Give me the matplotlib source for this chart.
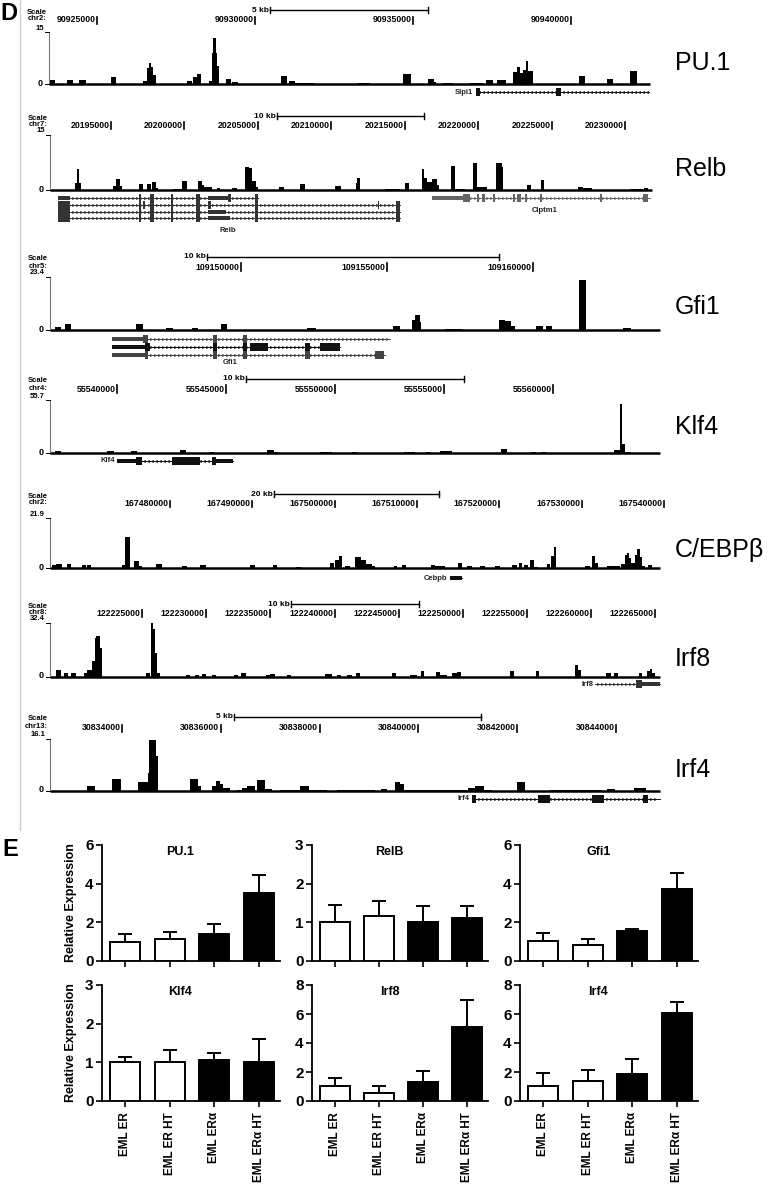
import numpy as np
import matplotlib
matplotlib.use('Agg')
import matplotlib.pyplot as plt
import matplotlib.transforms as mtransforms
from matplotlib.patches import Rectangle
from matplotlib.lines import Line2D

plt.rcParams['font.family'] = ['Liberation Sans', 'DejaVu Sans']

W, H = 774, 1189


def fx(px):
    return px / W


def fy(py):
    return 1 - py / H


# ---------------- panel D data (positions in window bins, heights in signal units)
track_names = ['PU.1', 'Relb', 'Gfi1', 'Klf4', 'C/EBP\u03b2', 'Irf8', 'Irf4']
track_chroms = ['chr2:', 'chr7:', 'chr5:', 'chr4:', 'chr2:', 'chr8:', 'chr13:']
track_ymax = [15, 15, 23.4, 55.7, 21.9, 32.4, 16.1]
track_ymax_label = ['15', '15', '23.4', '55.7', '21.9', '32.4', '16.1']
track_start_bp = [90923481, 20190850, 109143459, 55536927, 167465420, 122217835, 30832543]
track_bp_per_bin = [31.65, 68.03, 34.25, 45.87, 121.5, 77.9, 20.24]
track_scale_kb = [5, 10, 10, 10, 20, 10, 5]
track_scale_start = [90930476, 20206293, 109148836, 55545918, 167492636, 122236609, 30836267]

pu1_ticks = [90925000, 90930000, 90935000, 90940000]
relb_ticks = [20195000, 20200000, 20205000, 20210000, 20215000, 20220000, 20225000, 20230000]
gfi1_ticks = [109150000, 109155000, 109160000]
klf4_ticks = [55540000, 55545000, 55550000, 55555000, 55560000]
cebpb_ticks = [167480000, 167490000, 167500000, 167510000, 167520000, 167530000, 167540000]
irf8_ticks = [122225000, 122230000, 122235000, 122240000, 122245000, 122250000,
              122255000, 122260000, 122265000]
irf4_ticks = [30834000, 30836000, 30838000, 30840000, 30842000, 30844000]

pu1_peaks = [(1, 6, 1.2), (18, 24, 1.2), (30, 37, 1.2), (62, 67, 1.9), (94, 98, 1.0),
             (98, 100, 4.5), (100, 102, 6.1), (102, 104, 5.0), (104, 107, 2.7),
             (138, 143, 1.0), (144, 148, 1.9), (148, 152, 2.9), (160, 163, 1.0),
             (163, 164, 9.0), (164, 167, 13.3), (167, 168, 9.0), (168, 170, 5.1),
             (177, 182, 1.5), (183, 189, 0.5), (232, 238, 2.2), (240, 246, 1.0),
             (246, 266, 0.4), (308, 321, 0.4), (354, 362, 2.9), (379, 385, 1.5),
             (385, 387, 0.7), (394, 404, 0.4), (420, 434, 0.4), (437, 444, 1.1),
             (448, 457, 1.1), (464, 468, 3.4), (468, 471, 4.9), (471, 474, 3.2),
             (474, 477, 4.1), (477, 479, 6.5), (479, 484, 3.7), (530, 536, 2.4),
             (558, 564, 1.5), (581, 588, 3.8)]
relb_peaks = [(25, 27, 2.0), (27, 29, 5.6), (29, 31, 2.0), (63, 66, 1.1), (66, 70, 3.0),
              (70, 72, 1.1), (89, 93, 1.6), (97, 101, 1.6), (102, 106, 2.3), (106, 108, 0.5),
              (123, 132, 0.3), (132, 137, 2.5), (148, 152, 2.5), (152, 154, 1.4),
              (154, 162, 0.7), (167, 170, 0.5), (182, 187, 0.5), (195, 199, 6.2),
              (199, 202, 5.9), (202, 206, 2.5), (206, 208, 0.7), (229, 234, 0.7),
              (250, 255, 1.6), (285, 291, 1.1), (306, 307, 1.8), (307, 310, 3.4),
              (335, 350, 0.3), (355, 359, 2.0), (372, 374, 5.6), (374, 377, 3.2),
              (377, 382, 2.3), (382, 387, 2.9), (387, 389, 1.4), (401, 405, 6.5),
              (405, 415, 0.3), (423, 427, 7.4), (427, 437, 0.7), (446, 452, 7.3),
              (452, 453, 6.4), (477, 481, 1.4), (491, 494, 2.7), (528, 533, 0.7),
              (533, 542, 0.5), (580, 593, 0.3), (594, 598, 0.5)]
gfi1_peaks = [(5, 11, 1.3), (15, 21, 2.5), (86, 93, 2.5), (116, 123, 1.0), (142, 148, 1.0),
              (171, 177, 2.5), (257, 266, 1.0), (343, 350, 1.9), (362, 365, 4.4),
              (365, 370, 6.6), (370, 371, 3.4), (395, 412, 0.4), (449, 455, 4.4),
              (455, 461, 4.0), (461, 465, 1.9), (486, 493, 1.6), (496, 502, 1.9),
              (529, 536, 22.2), (573, 581, 1.0)]
klf4_peaks = [(5, 11, 2.1), (57, 64, 2.1), (81, 87, 2.1), (130, 136, 3.5), (159, 164, 1.1),
              (217, 224, 3.5), (224, 228, 1.1), (270, 282, 1.1), (302, 307, 1.1),
              (354, 365, 1.1), (376, 381, 1.1), (390, 402, 1.8), (451, 457, 4.6),
              (481, 486, 1.1), (491, 496, 1.1), (564, 570, 2.8), (570, 572, 52.0),
              (572, 575, 9.9), (575, 581, 1.1)]
cebpb_peaks = [(2, 6, 1.4), (6, 12, 1.7), (17, 21, 1.7), (32, 36, 1.4), (37, 41, 1.4),
               (72, 75, 1.4), (75, 80, 13.4), (84, 89, 2.9), (89, 92, 0.7), (106, 112, 1.7),
               (132, 137, 1.0), (150, 156, 1.4), (200, 205, 1.4), (223, 227, 1.4),
               (246, 251, 0.4), (280, 284, 2.2), (285, 289, 3.6), (289, 292, 5.3),
               (295, 300, 0.7), (305, 311, 4.8), (311, 316, 3.6), (316, 322, 1.9),
               (322, 325, 1.0), (344, 347, 0.7), (352, 356, 1.1), (381, 385, 1.1),
               (385, 395, 0.7), (408, 412, 2.2), (417, 422, 0.7), (430, 435, 0.7),
               (445, 450, 0.7), (462, 467, 1.1), (469, 472, 2.2), (474, 478, 1.4),
               (480, 484, 3.3), (484, 488, 0.4), (497, 500, 1.7), (501, 504, 5.3),
               (504, 506, 9.1), (535, 540, 0.7), (542, 545, 5.3), (545, 548, 2.2),
               (557, 570, 0.7), (571, 575, 1.9), (575, 577, 5.8), (577, 579, 6.5),
               (579, 581, 4.3), (581, 585, 2.2), (585, 587, 5.8), (587, 590, 8.4),
               (590, 592, 4.8), (592, 595, 0.7), (598, 602, 1.1)]
irf8_peaks = [(6, 11, 4.4), (14, 18, 2.4), (21, 26, 2.4), (34, 37, 2.4), (37, 42, 4.4),
              (42, 45, 9.4), (45, 46, 23.4), (46, 50, 24.4), (50, 52, 17.4), (96, 100, 2.4),
              (101, 103, 32.4), (103, 105, 28.8), (105, 107, 14.4), (107, 110, 2.4),
              (136, 140, 1.0), (145, 149, 1.0), (152, 156, 2.0), (162, 166, 1.0),
              (184, 188, 1.0), (191, 196, 2.4), (216, 220, 1.4), (220, 225, 1.8),
              (237, 241, 1.0), (275, 282, 1.8), (287, 291, 1.0), (297, 302, 1.0),
              (306, 310, 2.4), (342, 346, 2.4), (360, 367, 1.0), (371, 374, 3.4),
              (386, 390, 3.0), (390, 397, 1.4), (402, 407, 2.4), (407, 411, 3.0),
              (460, 464, 3.8), (486, 489, 3.8), (525, 528, 7.4), (528, 531, 4.4),
              (556, 561, 2.4), (564, 568, 2.4), (589, 592, 2.4), (597, 600, 3.4),
              (600, 602, 5.0), (602, 605, 2.4)]
irf4_peaks = [(37, 45, 1.5), (62, 71, 3.7), (88, 98, 2.8), (98, 99, 5.6), (99, 106, 15.9),
              (106, 108, 10.7), (140, 148, 3.7), (148, 151, 1.5), (162, 166, 1.5),
              (166, 170, 3.0), (170, 173, 2.3), (173, 180, 1.0), (187, 192, 0.4),
              (192, 197, 1.0), (197, 205, 1.5), (207, 215, 3.3), (215, 222, 0.7),
              (230, 250, 0.4), (250, 259, 1.5), (259, 277, 0.4), (287, 325, 0.2),
              (331, 337, 0.6), (345, 350, 2.8), (350, 354, 2.1), (354, 417, 0.2),
              (418, 425, 1.0), (425, 434, 1.5), (434, 442, 0.4), (467, 475, 2.8),
              (500, 552, 0.2), (557, 565, 0.6), (584, 596, 1.0)]

track_ticks = [pu1_ticks, relb_ticks, gfi1_ticks, klf4_ticks, cebpb_ticks, irf8_ticks, irf4_ticks]
track_peaks = [pu1_peaks, relb_peaks, gfi1_peaks, klf4_peaks, cebpb_peaks, irf8_peaks, irf4_peaks]

# gene models: (row y px, span, utr blocks, exon blocks, strand, colour)
pu1_genes = [(92, (427, 600), [], [(427, 431), (507, 512)], '-', '#111')]
relb_genes = [
    (198, (8, 208), [(8, 20), (158, 178)], [(89, 91), (100, 104), (121, 123), (146, 150), (178, 181), (205, 208)], '+', '#333'),
    (205, (8, 350), [], [(8, 20), (89, 91), (93, 95), (100, 104), (121, 123), (146, 150), (158, 161), (205, 208), (328, 329), (346, 350)], '+', '#333'),
    (212, (8, 350), [(158, 176)], [(8, 20), (89, 91), (100, 104), (121, 123), (146, 150), (205, 208), (346, 350)], '+', '#333'),
    (218, (8, 350), [(158, 180)], [(8, 20), (89, 91), (100, 104), (121, 123), (146, 150), (205, 208), (346, 350)], '+', '#333'),
    (198, (382, 600), [(382, 413)], [(413, 420), (427, 429), (432, 435), (443, 445), (463, 465), (467, 471), (475, 477), (490, 492), (550, 552), (593, 598)], '+', '#666'),
]
gfi1_genes = [
    (339, (62, 340), [(62, 95)], [(93, 98), (163, 167), (193, 197)], '+', '#444'),
    (347, (62, 290), [(62, 100)], [(95, 100), (163, 167), (193, 197), (200, 218), (255, 260), (270, 290)], '+', '#111'),
    (355, (62, 335), [(62, 95)], [(95, 98), (163, 167), (193, 197), (255, 260), (325, 334)], '+', '#444'),
]
klf4_genes = [(461, (67, 183), [(67, 88), (166, 183)], [(86, 92), (122, 150), (162, 166)], '-', '#111')]
cebpb_genes = [(578, (400, 412), [(400, 412)], [], '+', '#111')]
irf8_genes = [(684, (545, 610), [(592, 610)], [(586, 592)], '+', '#333')]
irf4_genes = [(799, (422, 610), [], [(422, 426), (488, 500), (542, 554), (593, 598)], '+', '#111')]
track_genes = [pu1_genes, relb_genes, gfi1_genes, klf4_genes, cebpb_genes, irf8_genes, irf4_genes]

# gene name labels: (text, bin, y px, alignment)
gene_labels = [[('Slpi1', 424, 92, 'right')],
               [('Relb', 178, 230, 'center'), ('Clptm1', 495, 210, 'center')],
               [('Gfi1', 180, 362, 'center')],
               [('Klf4', 65, 461, 'right')],
               [('Cebpb', 385, 578, 'center')],
               [('Irf8', 543, 684, 'right')],
               [('Irf4', 420, 799, 'right')]]

# ---------------- panel E data
groups = ['EML ER', 'EML ER HT', 'EML ER\u03b1', 'EML ER\u03b1 HT']
bar_titles = ['PU.1', 'RelB', 'Gfi1', 'Klf4', 'Irf8', 'Irf4']
pu1_mean = [1.0, 1.16, 1.40, 3.54]
pu1_err = [0.38, 0.36, 0.51, 0.90]
relb_mean = [1.0, 1.16, 1.0, 1.12]
relb_err = [0.44, 0.38, 0.42, 0.29]
gfi1_mean = [1.04, 0.85, 1.54, 3.75]
gfi1_err = [0.41, 0.31, 0.10, 0.78]
klf4_mean = [1.01, 1.0, 1.07, 1.0]
klf4_err = [0.13, 0.33, 0.17, 0.60]
irf8_mean = [1.03, 0.57, 1.33, 5.08]
irf8_err = [0.58, 0.46, 0.76, 1.89]
irf4_mean = [1.03, 1.40, 1.84, 6.09]
irf4_err = [0.92, 0.74, 1.06, 0.74]
bar_means = [pu1_mean, relb_mean, gfi1_mean, klf4_mean, irf8_mean, irf4_mean]
bar_errs = [pu1_err, relb_err, gfi1_err, klf4_err, irf8_err, irf4_err]
bar_ymax = [6, 3, 6, 3, 8, 8]
bar_ystep = [2, 1, 2, 1, 2, 2]
bar_colors = ['white', 'white', 'black', 'black']

# ---------------- layout (pixels)
t_left = [49, 50, 50, 50, 50, 50, 50]
t_right = [650, 652, 660, 660, 660, 660, 660]
t_scale_y = [10, 116, 257, 379, 494, 604, 717]
t_tick_y = [20, 125, 267, 389, 504, 613, 728]
t_top_y = [32, 135, 277, 400, 518, 623, 739]
t_base_y = [84, 190, 330, 453, 568, 677, 791]
t_label_y = [63, 169, 307, 427, 550, 659, 770]

fig = plt.figure(figsize=(W / 100, H / 100), dpi=100)
fig.add_artist(Line2D([fx(20), fx(20)], [fy(0), fy(830)], color='#cccccc', lw=1))
fig.text(fx(0), fy(13), 'D', fontsize=17, fontweight='bold', va='center', ha='left')
fig.text(fx(2), fy(849), 'E', fontsize=17, fontweight='bold', va='center', ha='left')


def draw_gene(ax, tr, y, span, utrs, exons, strand, color):
    yy = fy(y)
    ax.plot(span, [yy, yy], transform=tr, color=color, lw=0.7, clip_on=False)
    xs = np.arange(span[0] + 3, span[1] - 1, 4)
    ax.plot(xs, [yy] * len(xs), transform=tr, ls='none', marker='>' if strand == '+' else '<',
            ms=1.6, mew=0.4, color=color, clip_on=False)
    for a, b in utrs:
        ax.add_patch(Rectangle((a, yy - 2.2 / H), b - a, 4.4 / H, transform=tr, color=color,
                               lw=0, clip_on=False))
    for a, b in exons:
        ax.add_patch(Rectangle((a, yy - 3.8 / H), b - a, 7.6 / H, transform=tr, color=color,
                               lw=0, clip_on=False))


for i in range(7):
    left, right = t_left[i], t_right[i]
    base, top = t_base_y[i], t_top_y[i]
    ax = fig.add_axes([fx(left), fy(base), fx(right) - fx(left), (base - top) / H])
    ax.set_xlim(0, right - left)
    ax.set_ylim(0, track_ymax[i])
    ax.axis('off')
    tr = mtransforms.blended_transform_factory(ax.transData, fig.transFigure)

    pk = np.array(track_peaks[i], dtype=float)
    ax.bar(pk[:, 0], pk[:, 2], width=pk[:, 1] - pk[:, 0], align='edge', color='black', lw=0)
    ax.plot([0, right - left], [0, 0], color='black', lw=1.8, clip_on=False,
            solid_capstyle='butt')
    ax.plot([0, 0], [0, track_ymax[i]], color='#777777', lw=0.8, clip_on=False)
    ax.plot([-4, 0], [track_ymax[i]] * 2, color='black', lw=0.7, clip_on=False)
    ax.plot([-4, 0], [0, 0], color='black', lw=0.7, clip_on=False)

    kw = dict(transform=tr, fontsize=5.5, fontweight='bold', ha='right', va='center')
    ax.text(-2, fy(t_scale_y[i] + 2), 'Scale', **kw)
    ax.text(-2, fy(t_tick_y[i] - 1), track_chroms[i], **kw)
    ax.text(-5, fy(top - 4), track_ymax_label[i], **kw)
    ax.text(-6, fy(base - 1), '0', **dict(kw, fontsize=6.5))

    # coordinate ruler
    bpp = track_bp_per_bin[i]
    for t in track_ticks[i]:
        xb = (t - track_start_bp[i]) / bpp
        ax.text(xb - 1.5, fy(t_tick_y[i]), f'{t}', transform=tr, fontsize=6.3,
                fontweight='bold', ha='right', va='center')
        ax.plot([xb, xb], [fy(t_tick_y[i] - 3.5), fy(t_tick_y[i] + 3.5)], transform=tr,
                color='black', lw=1.2, clip_on=False)
    s0 = (track_scale_start[i] - track_start_bp[i]) / bpp
    s1 = s0 + track_scale_kb[i] * 1000 / bpp
    ys = fy(t_scale_y[i])
    ax.plot([s0, s1], [ys, ys], transform=tr, color='black', lw=1.0, clip_on=False)
    for s in (s0, s1):
        ax.plot([s, s], [ys - 3 / H, ys + 3 / H], transform=tr, color='black', lw=1.0,
                clip_on=False)
    ax.text(s0 - 1, ys, f'{track_scale_kb[i]} kb', transform=tr, fontsize=6,
            fontweight='bold', ha='right', va='center')

    for g in track_genes[i]:
        draw_gene(ax, tr, *g)
    for txt, xb, yl, ha in gene_labels[i]:
        ax.text(xb, fy(yl), txt, transform=tr, fontsize=5.5, fontweight='bold', ha=ha,
                va='center', color='#222222')

    fig.text(fx(675), fy(t_label_y[i]), track_names[i], fontsize=18, ha='left', va='center')

# ---------------- panel E
col_l = [102, 312, 520]
col_r = [280, 488, 698]
row_top = [845, 985]
row_bot = [961, 1101]
xpos = np.arange(4)
for k in range(6):
    r, c = divmod(k, 3)
    ax = fig.add_axes([fx(col_l[c]), fy(row_bot[r]), fx(col_r[c]) - fx(col_l[c]),
                       (row_bot[r] - row_top[r]) / H])
    ax.bar(xpos, bar_means[k], width=0.68, color=bar_colors, edgecolor='black', lw=1.4,
           zorder=3)
    ax.errorbar(xpos, bar_means[k], yerr=[np.zeros(4), bar_errs[k]], fmt='none',
                ecolor='black', elinewidth=1.4, capsize=4.8, capthick=1.4, zorder=2)
    ax.set_xlim(-0.52, 3.48)
    ax.set_ylim(0, bar_ymax[k])
    ax.set_yticks(np.arange(0, bar_ymax[k] + 1, bar_ystep[k]))
    ax.set_xticks(xpos)
    for sp in ('top', 'right'):
        ax.spines[sp].set_visible(False)
    for sp in ('left', 'bottom'):
        ax.spines[sp].set_linewidth(1.3)
    ax.tick_params(axis='y', length=4, width=1.2, labelsize=11, pad=2)
    ax.tick_params(axis='x', length=4, width=1.2, pad=4)
    for lab in ax.get_yticklabels():
        lab.set_fontweight('bold')
    if r == 1:
        ax.set_xticklabels(groups, rotation=90, fontsize=8.5, fontweight='bold')
    else:
        ax.set_xticklabels([])
    ax.text(0.44, 0.94, bar_titles[k], transform=ax.transAxes, fontsize=9,
            fontweight='bold', ha='center', va='center')
    if c == 0:
        ax.set_ylabel('Relative Expression', fontsize=9, fontweight='bold')
        ax.yaxis.set_label_coords(-0.14, 0.5)

fig.savefig('out.png', dpi=100)
